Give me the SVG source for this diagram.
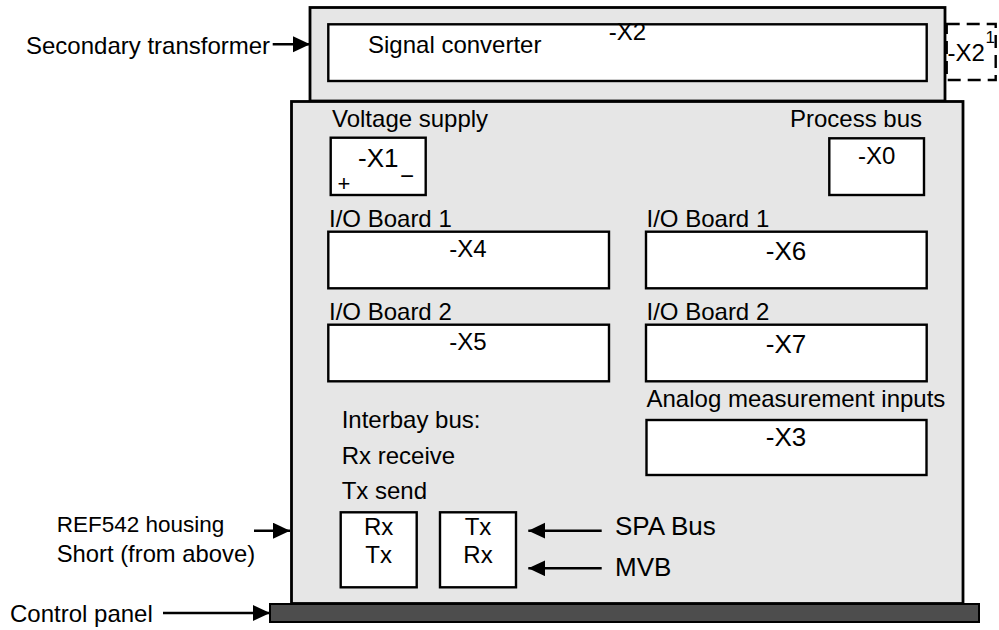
<svg xmlns="http://www.w3.org/2000/svg" width="999" height="630" viewBox="0 0 999 630">
  <style>
    text { font-family: "Liberation Sans", Arial, sans-serif; font-size: 24px; fill: #000; }
    .big { font-size: 26px; }
    .mid { text-anchor: middle; }
    .end { text-anchor: end; }
    .shell { fill: #e6e6e6; stroke: #000; stroke-width: 2.8; }
    .slot { fill: #fff; stroke: #000; stroke-width: 2.4; }
    .conn { stroke: #000; stroke-width: 2.5; fill: none; marker-end: url(#head); }
  </style>
  <defs>
    <marker id="head" markerUnits="userSpaceOnUse" markerWidth="18" markerHeight="18" refX="17" refY="8" orient="auto">
      <path d="M0,0 L17,8 L0,16 Z" fill="#000"/>
    </marker>
  </defs>

  <!-- secondary transformer housing with the signal converter -->
  <g id="secondary-transformer">
    <rect class="shell" x="310" y="7.5" width="635" height="93.5"/>
    <rect class="slot" x="328.3" y="24.3" width="598.4" height="56.7"/>
    <text x="368" y="53">Signal converter</text>
    <text class="mid" x="627.5" y="40">-X2</text>
  </g>

  <!-- optional connector -X2 shown dashed -->
  <g id="x2-optional">
    <rect x="946.7" y="24" width="49" height="56" fill="none" stroke="#000" stroke-width="2.4" stroke-dasharray="13 7"/>
    <text x="947.5" y="61">-X2</text>
    <text x="985.5" y="43" style="font-size:17px">1</text>
  </g>

  <!-- REF542 housing -->
  <g id="housing">
    <rect class="shell" x="291.5" y="101.5" width="671.5" height="502"/>
  </g>

  <g id="voltage-supply">
    <text x="332" y="127">Voltage supply</text>
    <rect class="slot" x="330.7" y="137.7" width="95" height="57.3"/>
    <text x="358" y="166.5" style="font-size:26px">-X1</text>
    <text x="337.5" y="191" style="font-size:22px">+</text>
    <text x="400" y="183.5" style="font-size:24px">−</text>
  </g>

  <g id="process-bus">
    <text class="end" x="922" y="127">Process bus</text>
    <rect class="slot" x="829.3" y="138.3" width="94.7" height="56.7"/>
    <text class="mid" x="876.7" y="164">-X0</text>
  </g>

  <g id="io-board-1-x4">
    <text x="329" y="226.5">I/O Board 1</text>
    <rect class="slot" x="328.3" y="231.7" width="280.7" height="56.6"/>
    <text class="mid" x="468" y="257">-X4</text>
  </g>

  <g id="io-board-1-x6">
    <text x="646.5" y="226.5">I/O Board 1</text>
    <rect class="slot" x="646" y="231.7" width="280.7" height="56.6"/>
    <text class="mid big" x="786" y="260">-X6</text>
  </g>

  <g id="io-board-2-x5">
    <text x="329" y="319.5">I/O Board 2</text>
    <rect class="slot" x="328.3" y="324.7" width="280.7" height="56.6"/>
    <text class="mid" x="468" y="350">-X5</text>
  </g>

  <g id="io-board-2-x7">
    <text x="646.5" y="319.5">I/O Board 2</text>
    <rect class="slot" x="646" y="324.7" width="280.7" height="56.6"/>
    <text class="mid big" x="786" y="353">-X7</text>
  </g>

  <g id="analog-inputs">
    <text x="646.5" y="407">Analog measurement inputs</text>
    <rect class="slot" x="646.5" y="420" width="280" height="55"/>
    <text class="mid big" x="786" y="445.7">-X3</text>
  </g>

  <g id="interbay-bus">
    <text x="341.7" y="428">Interbay bus:</text>
    <text x="341.7" y="464">Rx receive</text>
    <text x="341.7" y="499">Tx send</text>
  </g>

  <g id="port-1">
    <rect class="slot" x="340.7" y="512.3" width="76" height="75"/>
    <text class="mid" x="378.7" y="535">Rx</text>
    <text class="mid" x="378.7" y="563">Tx</text>
  </g>

  <g id="port-2">
    <rect class="slot" x="440" y="512.3" width="76" height="75"/>
    <text class="mid" x="478" y="535">Tx</text>
    <text class="mid" x="478" y="563">Rx</text>
  </g>

  <!-- control panel plate under the housing -->
  <g id="control-panel">
    <rect x="270" y="604" width="709" height="18" fill="#4d4d4d" stroke="#000" stroke-width="2"/>
  </g>

  <!-- callout labels -->
  <g id="labels">
    <text x="26" y="54">Secondary transformer</text>
    <text x="56.7" y="532" style="font-size:22.5px">REF542 housing</text>
    <text x="56.7" y="561.7" style="font-size:23.8px">Short (from above)</text>
    <text x="10" y="622">Control panel</text>
    <text class="big" x="615" y="535">SPA Bus</text>
    <text class="big" x="615" y="576">MVB</text>
  </g>

  <!-- connectors -->
  <g id="connectors">
    <line class="conn" x1="272.7" y1="44.3" x2="310" y2="44.3"/>
    <line class="conn" x1="254" y1="530.7" x2="290" y2="530.7"/>
    <line class="conn" x1="163" y1="613" x2="270" y2="613"/>
    <line class="conn" x1="601.7" y1="530.7" x2="528.3" y2="530.7"/>
    <line class="conn" x1="601.7" y1="568.3" x2="528.3" y2="568.3"/>
  </g>
</svg>
